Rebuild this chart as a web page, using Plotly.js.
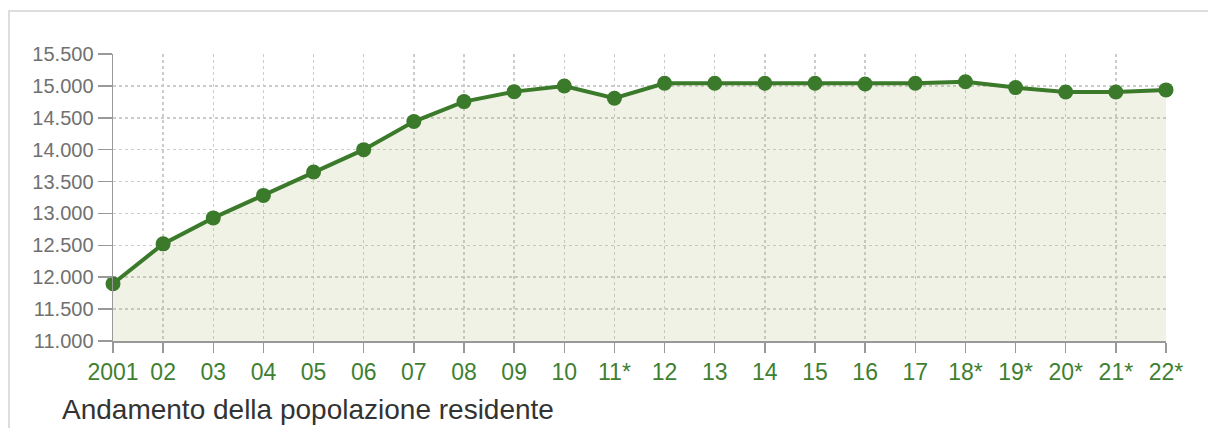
<!DOCTYPE html>
<html>
<head>
<meta charset="utf-8">
<script src="https://cdn.plot.ly/plotly-3.0.1.min.js"></script>
<style>
html,body{margin:0;padding:0;background:#fff;}
#chart{width:1208px;height:428px;}
</style>
</head>
<body>
<div id="chart"></div>
<script>
const years = ['2001','02','03','04','05','06','07','08','09','10','11*','12','13','14','15','16','17','18*','19*','20*','21*','22*'];
const population = [11898,12523,12930,13283,13650,14000,14441,14754,14910,14999,14807,15041,15041,15041,15041,15030,15041,15066,14973,14905,14905,14937];
const yTicks = [11000,11500,12000,12500,13000,13500,14000,14500,15000,15500];
const chartTitle = 'Andamento della popolazione residente';

const lineGreen = '#3a7a2a';
const fillColor = 'rgba(175,185,115,0.18)';

const trace = {
  x: years,
  y: population,
  type: 'scatter',
  mode: 'lines+markers',
  fill: 'tozeroy',
  fillcolor: fillColor,
  line: {color: lineGreen, width: 4},
  marker: {color: lineGreen, size: 15},
  cliponaxis: false,
  hoverinfo: 'x+y'
};

const layout = {
  width: 1208,
  height: 428,
  margin: {l: 113, r: 42, t: 54, b: 87},
  paper_bgcolor: '#ffffff',
  plot_bgcolor: '#ffffff',
  separators: ',.',
  showlegend: false,
  font: {family: 'Liberation Sans, Arial, sans-serif'},
  xaxis: {
    type: 'category',
    range: [0, years.length - 1],
    showgrid: true,
    gridcolor: '#cccccc',
    griddash: 'dot',
    gridwidth: 1.5,
    showline: true,
    linecolor: '#999',
    linewidth: 1.5,
    ticks: 'outside',
    ticklen: 10,
    tickcolor: '#999',
    tickwidth: 1.5,
    tickfont: {size: 23, color: '#3f7f32', family: 'Liberation Sans, Arial, sans-serif'},
    zeroline: false,
    fixedrange: true
  },
  yaxis: {
    range: [11000, 15500],
    tickvals: yTicks,
    tickformat: ',d',
    showgrid: true,
    gridcolor: '#cccccc',
    griddash: 'dot',
    gridwidth: 1.5,
    showline: true,
    linecolor: '#999',
    linewidth: 1.5,
    ticks: 'outside',
    ticklen: 14,
    tickcolor: '#999',
    tickwidth: 1.5,
    tickfont: {size: 20, color: '#707070', family: 'Liberation Sans, Arial, sans-serif'},
    zeroline: false,
    fixedrange: true
  },
  shapes: [{
    type: 'rect', xref: 'paper', yref: 'paper',
    x0: -0.0988, x1: 1.05, y0: -0.35, y1: 1.1498,
    line: {color: '#dddddd', width: 2},
    fillcolor: 'rgba(0,0,0,0)',
    layer: 'below'
  }],
  annotations: [{
    text: chartTitle,
    xref: 'paper', yref: 'paper',
    x: -0.0504, y: -0.3,
    xanchor: 'left', yanchor: 'bottom',
    showarrow: false,
    font: {size: 28, color: '#333333', family: 'Liberation Sans, Arial, sans-serif'}
  }]
};

Plotly.newPlot('chart', [trace], layout, {displayModeBar: false, staticPlot: true});
</script>
</body>
</html>
